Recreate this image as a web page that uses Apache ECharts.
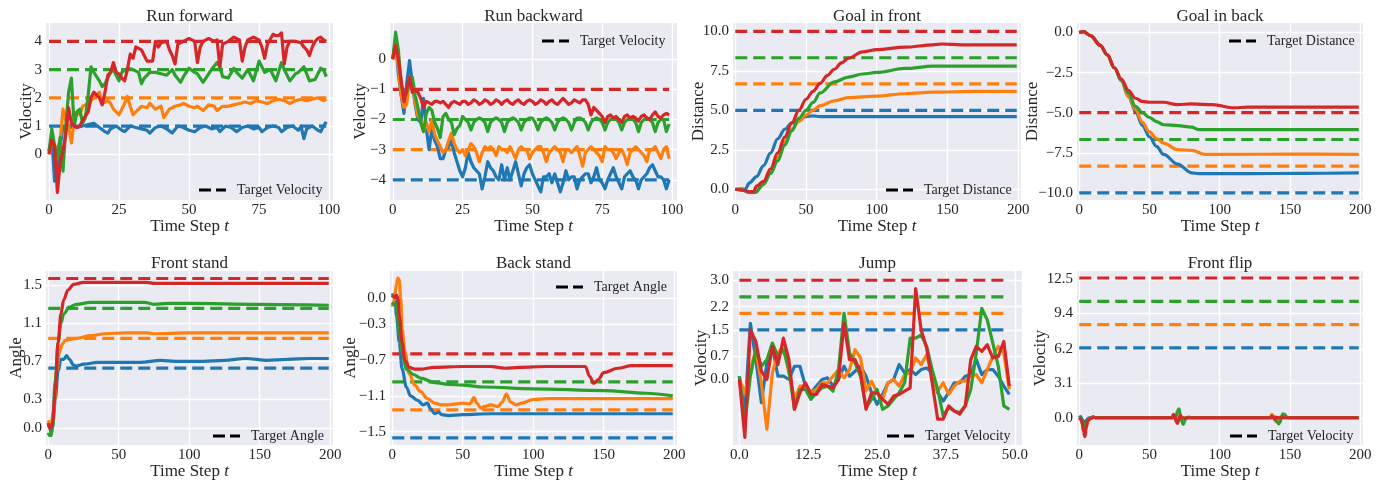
<!DOCTYPE html>
<html>
<head>
<meta charset="utf-8">
<script src="https://cdn.jsdelivr.net/npm/echarts@6/dist/echarts.min.js"></script>
<style>html,body{margin:0;padding:0;background:#fff}#c{width:1386px;height:483px}</style>
</head>
<body>
<div id="c"></div>
<script>
// ---------------- DATA ----------------
const titles = ['Run forward','Run backward','Goal in front','Goal in back','Front stand','Back stand','Jump','Front flip'];
const yNames = ['Velocity','Velocity','Distance','Distance','Angle','Angle','Velocity','Velocity'];
const legendNames = ['Target Velocity','Target Velocity','Target Distance','Target Distance','Target Angle','Target Angle','Target Velocity','Target Velocity'];

const xTicks100 = [0,25,50,75,100];
const xTicks200 = [0,50,100,150,200];
const xTicksJump = [0,12.5,25,37.5,50];

const yTicksRunForward = [0,1,2,3,4];
const yTicksRunBackward = [0,-1,-2,-3,-4];
const yTicksGoalFront = [0,2.5,5,7.5,10];
const yTicksGoalBack = [0,-2.5,-5,-7.5,-10];
const yTicksFrontStand = [0,0.3,0.7,1.1,1.5];
const yTicksBackStand = [0,-0.3,-0.7,-1.1,-1.5];
const yTicksJump = [0,0.7,1.5,2.2,3.0];
const yTicksFrontFlip = [0,3.1,6.2,9.4,12.5];

// targets (blue, orange, green, red)
const targetsRunForward = [1,2,3,4];
const targetsRunBackward = [-4,-3,-2,-1];
const targetsGoalFront = [5.0,6.67,8.33,10.0];
const targetsGoalBack = [-10.0,-8.33,-6.67,-5.0];
const targetsFrontStand = [0.628,0.942,1.257,1.571];
const targetsBackStand = [-1.571,-1.257,-0.942,-0.628];
const targetsJump = [1.5,2.0,2.5,3.0];
const targetsFrontFlip = [6.28,8.38,10.47,12.57];

// Run forward
const rfBlue = [[0,0.1],[1,0.6],[2,-0.95],[3,-0.8],[4,0.3],[5,1.0],[6,0.95],[7,1.0],[8,0.95],[9,1.0],[10,0.95],[12,1.0],[14,1.05],[16,1.1],[18,0.95],[20,0.8],[21,0.75],[22,0.9],[24,1.0],[26,0.85],[27,0.8],[29,1.0],[31,0.95],[33,0.9],[35,0.85],[36,0.75],[38,0.95],[40,1.0],[42,0.9],[44,0.75],[46,1.0],[48,0.95],[50,0.85],[52,0.8],[54,0.95],[56,1.0],[58,0.9],[60,0.95],[61,0.8],[63,1.0],[65,0.95],[67,0.8],[69,0.95],[71,1.0],[73,0.9],[75,0.95],[76,0.8],[78,0.95],[80,1.0],[82,0.95],[83,0.8],[85,0.95],[87,1.0],[89,0.85],[90,1.0],[91,0.55],[92,0.9],[94,1.0],[96,0.85],[97,0.8],[98,1.0],[99,1.15]];
const rfOrange = [[0,0.0],[1,0.4],[2,0.3],[3,0.2],[4,0.5],[5,1.6],[6,1.2],[7,1.0],[8,0.4],[9,1.2],[10,1.5],[11,1.4],[12,1.7],[13,1.75],[14,1.8],[15,1.9],[16,2.0],[17,2.1],[18,2.2],[19,1.8],[20,1.85],[21,1.9],[22,1.8],[23,1.6],[25,1.4],[26,1.6],[27,1.8],[28,2.05],[29,1.7],[30,1.4],[31,1.5],[33,1.7],[35,1.65],[36,1.8],[38,1.6],[40,1.7],[41,1.3],[42,1.45],[43,1.6],[45,1.7],[47,1.75],[48,1.8],[50,1.7],[52,1.65],[53,1.7],[55,1.55],[57,1.75],[59,1.7],[60,1.55],[62,1.7],[64,1.7],[66,1.75],[68,1.8],[70,1.85],[72,1.8],[74,1.9],[76,1.85],[78,1.8],[80,1.9],[82,1.95],[84,1.9],[86,1.8],[88,1.9],[90,1.95],[92,1.9],[94,1.95],[96,2.0],[98,1.9],[99,1.95]];
const rfGreen = [[0,0.1],[1,0.9],[2,0.3],[3,-0.2],[4,0.6],[5,-0.6],[6,1.0],[7,2.2],[8,2.7],[9,1.0],[10,1.5],[11,1.6],[12,1.1],[13,1.3],[14,2.1],[15,3.1],[16,2.9],[17,2.75],[18,2.6],[19,2.4],[20,2.5],[21,2.7],[22,2.9],[23,3.0],[24,2.8],[25,2.6],[26,2.9],[28,3.05],[30,3.0],[32,2.9],[33,2.5],[34,2.7],[36,2.9],[38,2.9],[40,2.85],[42,2.8],[44,3.0],[45,2.8],[47,2.55],[48,2.75],[50,3.05],[52,2.9],[53,2.85],[55,2.55],[56,2.7],[58,3.0],[60,3.25],[61,3.1],[62,2.75],[64,2.7],[66,3.05],[67,2.9],[69,2.7],[71,3.0],[72,2.8],[73,2.6],[75,3.3],[76,3.1],[77,2.9],[79,3.0],[81,2.6],[83,3.25],[84,3.0],[86,2.6],[88,2.85],[89,2.9],[91,3.1],[93,2.6],[95,2.65],[97,3.05],[98,3.0],[99,2.75]];
const rfRed = [[0,0.0],[1,0.5],[2,0.3],[3,-1.35],[4,-0.3],[5,0.1],[6,0.7],[7,1.65],[8,1.1],[9,1.0],[10,0.95],[11,1.0],[12,1.2],[13,1.35],[14,1.5],[15,2.0],[16,2.2],[17,2.1],[18,2.0],[19,1.75],[20,2.2],[21,2.8],[22,2.9],[23,3.25],[24,2.9],[25,2.85],[26,2.7],[27,2.6],[28,3.0],[29,3.55],[30,3.4],[31,3.8],[32,3.75],[33,3.7],[34,3.5],[35,3.3],[37,3.3],[38,4.0],[39,3.8],[40,3.95],[42,4.0],[43,3.7],[44,3.5],[45,3.2],[46,3.9],[48,4.0],[50,4.1],[52,4.0],[53,3.25],[54,3.8],[55,4.0],[57,4.1],[59,4.0],[60,4.05],[61,3.1],[62,3.9],[64,4.0],[66,4.15],[68,4.05],[69,3.3],[70,3.8],[71,4.05],[73,4.15],[75,4.05],[76,3.8],[77,3.4],[78,3.9],[80,4.25],[81,4.2],[82,4.2],[83,4.3],[84,3.2],[85,3.8],[86,4.0],[88,4.0],[90,3.95],[91,3.8],[92,3.7],[93,3.5],[94,3.8],[95,4.0],[96,4.1],[97,4.15],[98,4.05],[99,4.0]];

// Run backward
const rbBlue = [[0,0.0],[1,0.6],[2,-0.5],[3,-1.2],[4,-1.8],[5,-0.8],[6,-0.05],[7,-0.8],[8,-1.5],[9,-2.0],[10,-2.1],[11,-1.3],[12,-2.3],[13,-3.0],[14,-2.3],[15,-2.7],[16,-2.9],[17,-3.3],[18,-3.3],[19,-3.0],[20,-2.9],[21,-2.7],[22,-3.1],[23,-3.4],[24,-3.7],[25,-3.9],[26,-3.6],[27,-3.1],[28,-3.4],[29,-3.6],[30,-3.7],[31,-3.8],[32,-4.3],[33,-3.9],[34,-3.4],[35,-3.6],[36,-3.7],[37,-3.9],[38,-4.0],[39,-3.5],[40,-4.0],[41,-3.6],[42,-4.0],[43,-3.7],[44,-3.4],[45,-3.8],[46,-4.2],[47,-3.8],[48,-3.6],[49,-3.5],[50,-3.8],[51,-4.0],[52,-4.2],[53,-4.4],[54,-3.9],[55,-3.9],[56,-3.8],[57,-4.1],[58,-3.8],[59,-4.1],[60,-4.4],[61,-4.1],[62,-3.7],[63,-4.0],[64,-3.9],[65,-3.9],[66,-4.3],[67,-4.0],[68,-3.9],[69,-3.8],[70,-3.8],[71,-4.1],[72,-3.9],[73,-3.6],[74,-4.0],[75,-4.1],[76,-4.3],[77,-4.0],[78,-3.8],[79,-3.6],[80,-3.9],[81,-4.1],[82,-4.3],[83,-3.9],[84,-3.8],[85,-3.7],[86,-3.9],[87,-4.0],[88,-4.3],[89,-4.0],[90,-3.9],[91,-3.8],[92,-3.6],[93,-3.5],[94,-3.7],[95,-3.9],[96,-3.9],[97,-4.0],[98,-4.3],[99,-4.0]];
const rbOrange = [[0,0.0],[1,0.5],[2,-0.3],[3,-1.2],[4,-1.6],[5,-1.5],[6,-0.6],[7,-0.9],[8,-1.4],[9,-1.9],[10,-2.0],[11,-2.4],[12,-2.1],[13,-2.4],[14,-2.0],[15,-2.5],[16,-2.7],[17,-2.9],[18,-3.1],[19,-3.0],[20,-2.7],[21,-2.45],[22,-2.8],[23,-3.0],[24,-3.1],[25,-3.0],[26,-3.2],[27,-3.0],[28,-2.8],[29,-2.9],[30,-3.1],[31,-3.4],[32,-3.1],[33,-2.9],[34,-3.0],[35,-2.9],[36,-3.0],[37,-3.2],[38,-2.9],[39,-3.0],[40,-3.0],[41,-3.1],[42,-2.9],[43,-3.1],[44,-3.3],[45,-3.0],[46,-2.9],[47,-3.0],[48,-3.0],[49,-3.3],[50,-3.1],[51,-3.0],[52,-2.9],[53,-2.9],[54,-3.1],[55,-3.4],[56,-3.1],[57,-3.0],[58,-2.9],[59,-3.0],[60,-3.1],[61,-3.4],[62,-3.0],[63,-3.0],[64,-3.1],[65,-3.0],[66,-2.9],[67,-3.2],[68,-3.55],[69,-3.1],[70,-3.0],[71,-2.9],[72,-3.0],[73,-3.1],[74,-3.2],[75,-3.4],[76,-2.9],[77,-3.0],[78,-3.0],[79,-3.1],[80,-3.3],[81,-3.1],[82,-3.0],[83,-3.2],[84,-3.5],[85,-3.1],[86,-3.0],[87,-2.9],[88,-3.0],[89,-3.1],[90,-3.2],[91,-3.4],[92,-3.0],[93,-3.0],[94,-2.9],[95,-3.1],[96,-3.3],[97,-3.0],[98,-2.9],[99,-3.3]];
const rbGreen = [[0,0.0],[1,0.9],[2,0.3],[3,-0.8],[4,-1.3],[5,-1.1],[6,-0.7],[7,-0.6],[8,-1.2],[9,-1.6],[10,-2.1],[11,-2.4],[12,-1.8],[13,-1.6],[14,-1.7],[15,-2.1],[16,-2.3],[17,-2.6],[18,-1.9],[19,-1.8],[20,-2.0],[21,-2.1],[22,-2.5],[23,-2.3],[24,-2.2],[25,-1.9],[26,-2.0],[27,-2.1],[28,-2.35],[29,-2.1],[30,-2.0],[31,-1.95],[32,-2.0],[33,-2.1],[34,-2.4],[35,-2.1],[36,-2.0],[37,-1.95],[38,-2.0],[39,-2.1],[40,-2.4],[41,-2.1],[42,-2.0],[43,-1.95],[44,-2.0],[45,-2.1],[46,-2.35],[47,-2.1],[48,-2.0],[49,-1.95],[50,-1.95],[51,-2.1],[52,-2.35],[53,-2.1],[54,-2.0],[55,-1.95],[56,-2.0],[57,-2.1],[58,-2.35],[59,-2.1],[60,-2.0],[61,-1.95],[62,-2.0],[63,-2.1],[64,-2.35],[65,-2.1],[66,-1.95],[67,-1.95],[68,-2.0],[69,-2.1],[70,-2.35],[71,-2.1],[72,-2.0],[73,-1.95],[74,-2.0],[75,-2.1],[76,-2.35],[77,-2.1],[78,-2.0],[79,-1.95],[80,-2.0],[81,-2.1],[82,-2.35],[83,-2.1],[84,-2.0],[85,-1.95],[86,-2.0],[87,-2.1],[88,-2.4],[89,-2.1],[90,-2.0],[91,-1.95],[92,-2.0],[93,-2.1],[94,-2.4],[95,-2.1],[96,-2.0],[97,-2.0],[98,-2.4],[99,-2.15]];
const rbRed = [[0,0.0],[1,0.45],[2,0.0],[3,-0.7],[4,-1.4],[5,-1.0],[6,-0.6],[7,-1.1],[8,-1.0],[9,-1.1],[10,-1.3],[11,-1.6],[12,-1.4],[13,-1.45],[14,-1.5],[15,-1.4],[16,-1.4],[17,-1.45],[18,-1.4],[19,-1.5],[20,-1.6],[21,-1.45],[22,-1.4],[23,-1.45],[24,-1.5],[25,-1.4],[26,-1.4],[27,-1.5],[28,-1.45],[29,-1.35],[30,-1.4],[31,-1.5],[32,-1.45],[33,-1.35],[34,-1.4],[35,-1.5],[36,-1.45],[37,-1.35],[38,-1.4],[39,-1.5],[40,-1.4],[41,-1.35],[42,-1.45],[43,-1.5],[44,-1.4],[45,-1.35],[46,-1.45],[47,-1.5],[48,-1.4],[49,-1.35],[50,-1.4],[51,-1.5],[52,-1.45],[53,-1.35],[54,-1.4],[55,-1.5],[56,-1.4],[57,-1.35],[58,-1.45],[59,-1.5],[60,-1.4],[61,-1.3],[62,-1.4],[63,-1.5],[64,-1.45],[65,-1.35],[66,-1.4],[67,-1.45],[68,-1.35],[69,-1.35],[70,-1.5],[71,-1.85],[72,-1.6],[73,-1.7],[74,-1.8],[75,-1.9],[76,-2.1],[77,-1.9],[78,-1.85],[79,-1.95],[80,-1.9],[81,-2.0],[82,-2.1],[83,-1.9],[84,-1.85],[85,-1.95],[86,-1.9],[87,-1.95],[88,-2.05],[89,-1.9],[90,-1.85],[91,-1.95],[92,-2.0],[93,-1.85],[94,-1.75],[95,-1.9],[96,-1.95],[97,-1.85],[98,-1.8],[99,-1.85]];

// Goal in front
const gfBlue = [[0,0],[4,0.02],[7,0.0],[10,0.4],[15,0.8],[20,1.5],[25,2.3],[30,3.2],[35,3.8],[40,4.2],[45,4.4],[50,4.6],[55,4.65],[60,4.6],[80,4.6],[120,4.6],[160,4.6],[199,4.6]];
const gfOrange = [[0,0],[5,-0.05],[10,-0.2],[14,-0.2],[20,0.4],[25,1.1],[30,2.0],[35,3.0],[40,3.8],[45,4.3],[50,4.7],[55,5.0],[60,5.3],[70,5.6],[80,5.8],[100,5.9],[120,6.05],[140,6.15],[170,6.2],[199,6.2]];
const gfGreen = [[0,0],[5,-0.05],[10,-0.2],[14,-0.2],[20,0.3],[25,1.0],[30,1.8],[35,2.8],[40,3.7],[45,4.5],[50,5.0],[55,5.5],[60,6.1],[70,6.8],[80,7.1],[90,7.3],[100,7.4],[120,7.65],[140,7.8],[170,7.8],[199,7.8]];
const gfRed = [[0,0],[5,-0.05],[10,-0.15],[13,-0.15],[15,0.2],[20,0.5],[25,1.3],[30,2.3],[35,3.3],[40,4.2],[45,5.0],[50,5.7],[55,6.2],[60,6.7],[65,7.2],[70,7.6],[75,8.0],[80,8.3],[90,8.7],[100,8.85],[120,9.0],[140,9.15],[146,9.2],[160,9.15],[199,9.15]];

// Goal in back
const gbBlue = [[0,0],[3,0.05],[8,-0.2],[15,-0.8],[20,-1.4],[25,-2.2],[30,-3.0],[35,-4.0],[40,-4.9],[45,-5.8],[50,-6.5],[55,-7.1],[60,-7.6],[70,-8.2],[80,-8.75],[85,-8.8],[120,-8.8],[160,-8.78],[199,-8.75]];
const gbOrange = [[0,0],[3,0.05],[8,-0.2],[15,-0.8],[20,-1.4],[25,-2.2],[30,-3.0],[35,-4.0],[40,-4.8],[45,-5.6],[50,-6.2],[55,-6.6],[60,-6.9],[70,-7.3],[80,-7.35],[90,-7.6],[100,-7.6],[150,-7.58],[199,-7.6]];
const gbGreen = [[0,0],[3,0.05],[8,-0.2],[15,-0.8],[20,-1.4],[25,-2.2],[30,-3.0],[35,-3.8],[40,-4.6],[45,-5.0],[50,-5.3],[55,-5.55],[60,-5.75],[70,-5.8],[80,-5.9],[85,-6.05],[100,-6.05],[150,-6.05],[199,-6.05]];
const gbRed = [[0,0],[3,0.05],[8,-0.2],[15,-0.8],[20,-1.4],[25,-2.2],[30,-2.9],[35,-3.6],[40,-4.1],[45,-4.3],[50,-4.35],[60,-4.35],[70,-4.5],[80,-4.45],[95,-4.5],[110,-4.7],[120,-4.65],[160,-4.65],[199,-4.65]];

// Front stand
const fsBlue = [[0,0.05],[1,0.0],[2,-0.05],[3,0.0],[5,0.3],[7,0.6],[9,0.72],[11,0.72],[13,0.76],[15,0.72],[18,0.66],[20,0.65],[25,0.67],[35,0.69],[50,0.69],[65,0.69],[80,0.71],[90,0.7],[110,0.7],[125,0.71],[140,0.73],[155,0.71],[170,0.72],[185,0.73],[199,0.73]];
const fsOrange = [[0,0.08],[2,0.02],[4,0.2],[6,0.6],[8,0.8],[10,0.88],[12,0.92],[15,0.93],[20,0.94],[30,0.97],[40,0.99],[55,1.0],[70,1.0],[75,0.99],[100,1.0],[150,1.0],[199,1.0]];
const fsGreen = [[0,-0.05],[1,-0.08],[2,-0.08],[3,0.0],[5,0.5],[7,0.9],[9,1.1],[11,1.2],[15,1.27],[20,1.3],[30,1.32],[50,1.32],[68,1.32],[75,1.3],[85,1.31],[100,1.31],[150,1.3],[199,1.29]];
const fsRed = [[0,0.05],[1,0.0],[2,0.0],[3,0.05],[5,0.4],[7,0.9],[9,1.2],[11,1.35],[14,1.45],[18,1.51],[25,1.53],[50,1.53],[70,1.53],[75,1.52],[120,1.52],[199,1.52]];

// Back stand
const bsBlue = [[0,0.05],[2,0.0],[3,-0.2],[5,-0.5],[7,-0.8],[10,-1.0],[13,-1.1],[18,-1.15],[22,-1.2],[25,-1.18],[27,-1.24],[30,-1.3],[33,-1.28],[35,-1.31],[40,-1.32],[50,-1.31],[70,-1.3],[100,-1.3],[150,-1.3],[199,-1.3]];
const bsOrange = [[0,-0.1],[1,-0.05],[2,0.05],[3,0.15],[4,0.22],[5,0.2],[6,0.0],[7,-0.35],[9,-0.6],[12,-0.85],[16,-0.98],[20,-1.05],[25,-1.13],[30,-1.18],[35,-1.2],[40,-1.2],[45,-1.19],[50,-1.18],[55,-1.19],[58,-1.12],[60,-1.18],[63,-1.24],[65,-1.22],[70,-1.2],[75,-1.22],[78,-1.17],[81,-1.08],[84,-1.17],[88,-1.2],[92,-1.18],[100,-1.14],[110,-1.13],[150,-1.13],[199,-1.13]];
const bsGreen = [[0,-0.05],[2,-0.08],[3,-0.1],[5,-0.4],[7,-0.6],[10,-0.8],[15,-0.86],[20,-0.9],[30,-0.95],[40,-0.97],[50,-0.98],[65,-1.0],[100,-1.02],[150,-1.04],[180,-1.07],[199,-1.1]];
const bsRed = [[0,0.0],[1,0.02],[2,0.0],[3,0.03],[4,0.0],[5,-0.2],[7,-0.5],[9,-0.7],[12,-0.78],[16,-0.8],[20,-0.8],[30,-0.78],[50,-0.77],[70,-0.77],[75,-0.78],[80,-0.79],[90,-0.78],[110,-0.77],[130,-0.77],[137,-0.77],[140,-0.88],[143,-0.96],[146,-0.92],[150,-0.84],[160,-0.79],[170,-0.76],[199,-0.76]];

// Jump
const jBlue = [0.1,-1.0,1.7,0.6,-0.7,0.5,1.0,0.1,0.1,0.0,0.4,0.4,-0.2,-0.4,-0.2,0.0,0.05,-0.2,0.0,0.4,0.1,0.25,0.4,0.1,-0.4,-0.75,-0.45,-0.1,0.0,0.45,0.2,0.3,0.15,0.3,0.35,0.2,-0.4,-0.65,-0.4,-0.1,-0.1,0.1,0.15,0.6,0.15,0.3,0.3,0.1,-0.2,-0.45];
const jOrange = [0.0,-0.4,0.3,0.9,-0.1,-1.5,0.2,0.8,1.0,0.2,-0.6,-0.2,-0.2,-0.4,-0.3,-0.1,-0.1,0.1,0.3,0.05,0.3,0.9,0.65,-0.35,-0.05,-0.4,-0.6,-0.1,0.0,-0.2,0.15,0.2,0.65,0.45,0.75,0.1,-0.35,-0.1,-0.45,-0.2,-0.05,-0.05,0.1,0.15,-0.1,0.3,0.7,1.0,0.8,-0.3];
const jGreen = [0.1,-1.3,0.1,0.9,0.4,0.6,1.1,0.7,0.9,0.3,-0.9,-0.3,-0.3,-0.6,-0.4,-0.25,-0.2,-0.35,0.3,2.0,0.8,0.5,0.1,-0.85,-0.6,-0.3,-0.9,-0.8,-0.6,-0.4,-0.1,1.25,1.25,1.35,1.0,0.3,-0.3,-1.1,-0.85,-0.95,-1.0,-0.8,-0.3,0.8,2.15,1.8,1.1,0.4,-0.8,-0.9];
const jRed = [0.0,-1.75,1.5,1.15,0.25,0.0,1.0,0.45,1.25,0.6,-0.9,-0.4,-0.1,-0.45,-0.45,-0.15,-0.2,-0.25,0.0,1.7,0.6,0.6,0.2,-0.9,-0.4,-0.4,-0.6,-0.75,-0.5,-0.45,-0.35,-0.25,2.75,1.5,0.95,-0.1,-1.2,-1.2,-0.8,-0.95,-1.05,-0.8,0.6,1.0,0.85,1.05,0.65,0.7,1.15,-0.2];

// Front flip
const ffBlue = [[0,0],[1,0.1],[2,-0.1],[3,-0.5],[4,-0.4],[5,-0.2],[7,0.0],[10,0.05],[12,0],[70,0],[71,0.1],[72,-0.1],[73,0],[199,0]];
const ffOrange = [[0,0],[1,-0.1],[2,-0.5],[3,-1.1],[4,-1.2],[5,-0.6],[7,-0.15],[10,0.05],[12,0],[68,0],[70,0.2],[71,-0.2],[72,0.1],[74,0],[136,0],[137,0.3],[138,0.2],[139,-0.1],[140,-0.35],[141,-0.2],[142,0.0],[144,0.1],[146,0.0],[199,0]];
const ffGreen = [[0,0],[1,-0.05],[2,-0.3],[3,-0.7],[4,-0.8],[5,-0.4],[7,-0.1],[10,0.05],[12,0],[68,0.0],[69,0.2],[70,0.6],[71,0.8],[72,0.3],[73,-0.3],[74,-0.6],[75,-0.3],[76,0.0],[78,0.05],[80,0],[139,0],[140,-0.2],[141,-0.4],[142,-0.55],[143,-0.4],[144,0.1],[145,0.35],[146,0.3],[148,0.05],[150,0],[199,0]];
const ffRed = [[0,0],[1,-0.1],[2,-0.4],[3,-1.2],[4,-1.7],[5,-0.9],[6,-0.3],[8,-0.05],[10,0.05],[12,0.0],[66,0.0],[67,0.3],[68,0.15],[69,-0.35],[70,-0.5],[71,-0.1],[72,0.2],[73,0.0],[75,-0.05],[78,0.0],[136,0.0],[137,0.15],[138,0.1],[139,-0.15],[140,0.05],[142,0.0],[199,0.0]];

// ---------------- LAYOUT / STYLE ----------------
const COLORS = ['#1f77b4','#ff7f0e','#2ca02c','#d62728'];
const FONT = '"Liberation Serif","Times New Roman",serif';
const TXT = '#262626';
const DASH_ICON = 'path://M0,0H12V3H0Z M17,0H27V3H17Z';
const toPairs = arr => arr.map((v,i)=>[i,v]);

const panels = [
  {grid:{left:46,top:23,width:287,height:177}, x:[-1.07,101.4], xt:xTicks100, xd:0, y:[-1.62,4.65], yt:yTicksRunForward, yd:0, tg:targetsRunForward, tEnd:99, data:[rfBlue,rfOrange,rfGreen,rfRed], smooth:false, yGap:11, leg:[199,191]},
  {grid:{left:390,top:23,width:287,height:177}, x:[-1.0,101.8], xt:xTicks100, xd:0, y:[-4.67,1.2], yt:yTicksRunBackward, yd:0, tg:targetsRunBackward, tEnd:99, data:[rbBlue,rbOrange,rbGreen,rbRed], smooth:false, yGap:21, leg:[542,42]},
  {grid:{left:733,top:23,width:288,height:177}, x:[-1.6,202], xt:xTicks200, xd:0, y:[-0.68,10.53], yt:yTicksGoalFront, yd:1, tg:targetsGoalFront, tEnd:199, data:[gfBlue,gfOrange,gfGreen,gfRed], smooth:true, yGap:26, leg:[886,191]},
  {grid:{left:1077,top:23,width:286,height:177}, x:[-1.6,202], xt:xTicks200, xd:0, y:[-10.44,0.59], yt:yTicksGoalBack, yd:1, tg:targetsGoalBack, tEnd:199, data:[gbBlue,gbOrange,gbGreen,gbRed], smooth:true, yGap:36, leg:[1229,42]},
  {grid:{left:46,top:271,width:287,height:174}, x:[-1.6,202], xt:xTicks200, xd:0, y:[-0.18,1.65], yt:yTicksFrontStand, yd:1, tg:targetsFrontStand, tEnd:199, data:[fsBlue,fsOrange,fsGreen,fsRed], smooth:true, yGap:21, leg:[213,437]},
  {grid:{left:390,top:271,width:287,height:174}, x:[-1.6,202], xt:xTicks200, xd:0, y:[-1.65,0.3], yt:yTicksBackStand, yd:1, tg:targetsBackStand, tEnd:199, data:[bsBlue,bsOrange,bsGreen,bsRed], smooth:true, yGap:31, leg:[556,288]},
  {grid:{left:733,top:271,width:289,height:174}, x:[-1.15,51.3], xt:xTicksJump, xd:1, y:[-1.98,3.28], yt:yTicksJump, yd:1, tg:targetsJump, tEnd:49, data:[toPairs(jBlue),toPairs(jOrange),toPairs(jGreen),toPairs(jRed)], smooth:false, yGap:23, leg:[887,437]},
  {grid:{left:1077,top:271,width:286,height:174}, x:[-1.6,202], xt:xTicks200, xd:0, y:[-2.45,13.2], yt:yTicksFrontFlip, yd:1, tg:targetsFrontFlip, tEnd:199, data:[ffBlue,ffOrange,ffGreen,ffRed], smooth:true, yGap:28, leg:[1230,437]}
];

const fmt = d => v => Number(v).toFixed(d).replace('-', '\u2212').replace(/^\u22120(\.0+)?$/, '0$1');

const option = {animation:false, backgroundColor:'#fff', grid:[], xAxis:[], yAxis:[], series:[], title:[], legend:[]};

panels.forEach((p,i)=>{
  option.grid.push(Object.assign({show:true, backgroundColor:'#EAEAF2', borderWidth:0, containLabel:false}, p.grid));
  option.xAxis.push({
    type:'value', gridIndex:i, min:p.x[0], max:p.x[1],
    axisLine:{show:false}, axisTick:{show:false, customValues:p.xt},
    axisLabel:{customValues:p.xt, formatter:fmt(p.xd), margin:3, fontFamily:FONT, fontSize:15, color:TXT},
    splitLine:{show:true, lineStyle:{color:'#ffffff', width:1.3}},
    name:'Time Step {i|t}', nameLocation:'middle', nameGap:18, nameMoveOverlap:false,
    nameTextStyle:{fontFamily:FONT, fontSize:17, color:TXT, verticalAlign:'top', rich:{i:{fontFamily:FONT, fontSize:17, fontStyle:'italic', color:TXT}}}
  });
  option.yAxis.push({
    type:'value', gridIndex:i, min:p.y[0], max:p.y[1],
    axisLine:{show:false}, axisTick:{show:false, customValues:p.yt},
    axisLabel:{customValues:p.yt, formatter:fmt(p.yd), margin:4, fontFamily:FONT, fontSize:15, color:TXT},
    splitLine:{show:true, lineStyle:{color:'#ffffff', width:1.3}},
    name:yNames[i], nameLocation:'middle', nameGap:p.yGap, nameRotate:90, nameMoveOverlap:false,
    nameTextStyle:{fontFamily:FONT, fontSize:17, color:TXT}
  });
  const cx = p.grid.left + p.grid.width/2;
  option.title.push({text:titles[i], left:cx, top:p.grid.top-(i<4?15:16), textAlign:'center', padding:0,
    textStyle:{fontFamily:FONT, fontSize:17, fontWeight:'normal', color:TXT}});
  // target dashed lines
  p.tg.forEach((t,k)=>{
    option.series.push({type:'line', xAxisIndex:i, yAxisIndex:i, data:[[0,t],[p.tEnd,t]], symbol:'none', silent:true,
      lineStyle:{color:COLORS[k], width:3.2, type:[12,6]}, z:2});
  });
  // solid curves
  p.data.forEach((d,k)=>{
    option.series.push({type:'line', xAxisIndex:i, yAxisIndex:i, data:d, symbol:'none', silent:true,
      smooth:p.smooth?0.35:false, smoothMonotone:p.smooth?'x':undefined,
      lineStyle:{color:COLORS[k], width:3.2, join:'round'}, z:3});
  });
  // legend proxy series
  option.series.push({type:'line', name:legendNames[i], xAxisIndex:i, yAxisIndex:i, data:[], symbol:'none',
    lineStyle:{color:'#000', width:3, type:[10,5]}, itemStyle:{color:'#000'}});
  option.legend.push({data:[{name:legendNames[i], icon:DASH_ICON}], left:p.leg[0], top:p.leg[1]-8, padding:0, itemWidth:27, itemHeight:3,
    selectedMode:false, itemStyle:{color:'#000', borderWidth:0}, textStyle:{fontFamily:FONT, fontSize:14, color:TXT, padding:[0,0,0,6]}});
});

const chart = echarts.init(document.getElementById('c'), null, {renderer:'canvas'});
chart.setOption(option);
</script>
</body>
</html>
